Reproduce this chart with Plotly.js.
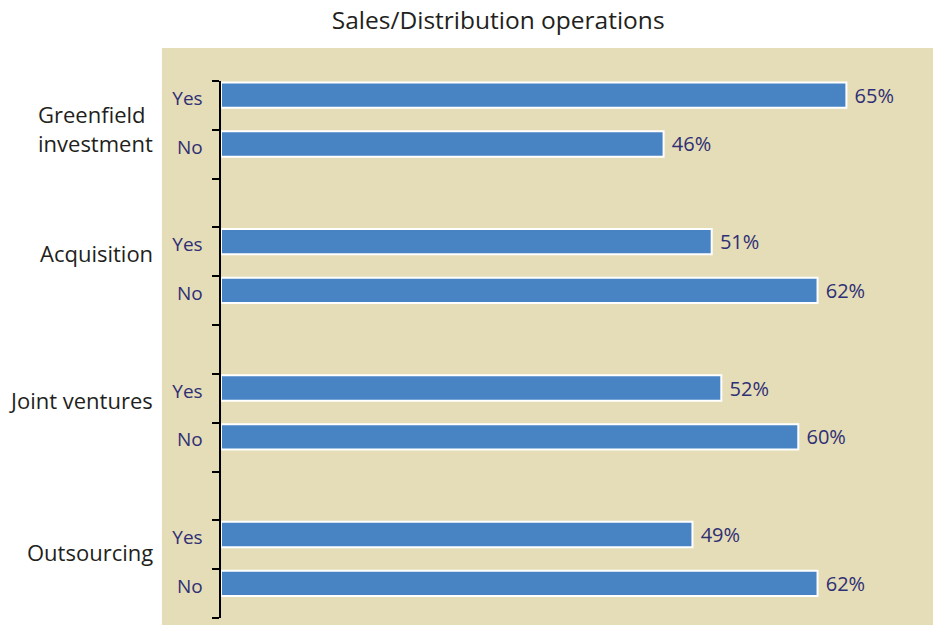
<!DOCTYPE html>
<html><head><meta charset="utf-8">
<script src="https://cdn.plot.ly/plotly-3.0.1.min.js"></script>
<style>html,body{margin:0;padding:0;background:#fff}#chart{width:940px;height:625px}</style>
</head><body><div id="chart"></div>
<script>
// ---- data ----
const groups = ["Greenfield<br>investment", "Acquisition", "Joint ventures", "Outsourcing"];
const answers = ["Yes", "No"];
const yesValues = [65, 51, 52, 49];
const noValues = [46, 62, 60, 62];
const chartTitle = "Sales/Distribution operations";

// ---- build ----
const slotsPerGroup = 3;
const ys = [], xs = [], labelVals = [], labelText = [];
groups.forEach((g, i) => {
  const vals = [yesValues[i], noValues[i]];
  answers.forEach((a, k) => {
    const pos = i * slotsPerGroup + k;
    ys.push(pos); xs.push(vals[k]);
    labelVals.push(pos - 0.15); labelText.push(a);
  });
});
const nSlots = groups.length * slotsPerGroup - 1;
const boundaries = [];
for (let b = -0.5; b <= nSlots - 0.5 + 1e-9; b += 1) boundaries.push(b);

const beige = "#e5dcb8";
const navy = "#2e2f74";
const font = "Open Sans, Noto Sans, sans-serif";

const trace = {
  type: "bar", orientation: "h",
  x: xs, y: ys,
  width: 0.52, offset: -0.47,
  marker: { color: "#4884c4", line: { color: "#ffffff", width: 2 } },
  texttemplate: "\u00a0%{x}%", textposition: "outside",
  textfont: { family: font, size: 20, color: navy },
  constraintext: "none", cliponaxis: false, hoverinfo: "none"
};

const annotations = groups.map((g, i) => ({
  xref: "paper", x: 0, xshift: -66, xanchor: "right", align: "left",
  yref: "y", y: i * slotsPerGroup + (i === 0 ? 0.48 : (i === groups.length - 1 ? 0.15 : 0.03)),
  yanchor: "middle", text: g, showarrow: false,
  font: { family: font, size: 22, color: "#231f20" }
}));

const layout = {
  width: 940, height: 625,
  margin: { l: 221, r: 7, t: 81, b: 7, pad: 0 },
  paper_bgcolor: "#ffffff", plot_bgcolor: beige,
  title: { text: chartTitle, xref: "container", x: 0.53, xanchor: "center",
           yref: "container", y: 0.967, yanchor: "middle",
           font: { family: font, size: 24.5, color: "#231f20" } },
  showlegend: false,
  shapes: [{ type: "rect", xref: "paper", yref: "paper",
             x0: -0.083, x1: 1, y0: -0.013, y1: 1.0615,
             fillcolor: beige, line: { width: 0 }, layer: "below" }],
  xaxis: { range: [0, 74], visible: false, fixedrange: true },
  yaxis: {
    range: [nSlots - 0.5, -0.5], showline: true, linecolor: "#000", linewidth: 2.5,
    showgrid: false, zeroline: false,
    tickmode: "array", tickvals: labelVals, ticktext: labelText, ticks: "",
    ticklabelstandoff: 12, tickfont: { family: font, size: 19, color: navy },
    minor: { tickmode: "array", tickvals: boundaries, ticks: "outside", ticklen: 7,
             tickwidth: 2, tickcolor: "#000", showgrid: false }
  },
  annotations: annotations
};

Plotly.newPlot("chart", [trace], layout, { displayModeBar: false, staticPlot: true });
</script>
</body></html>
